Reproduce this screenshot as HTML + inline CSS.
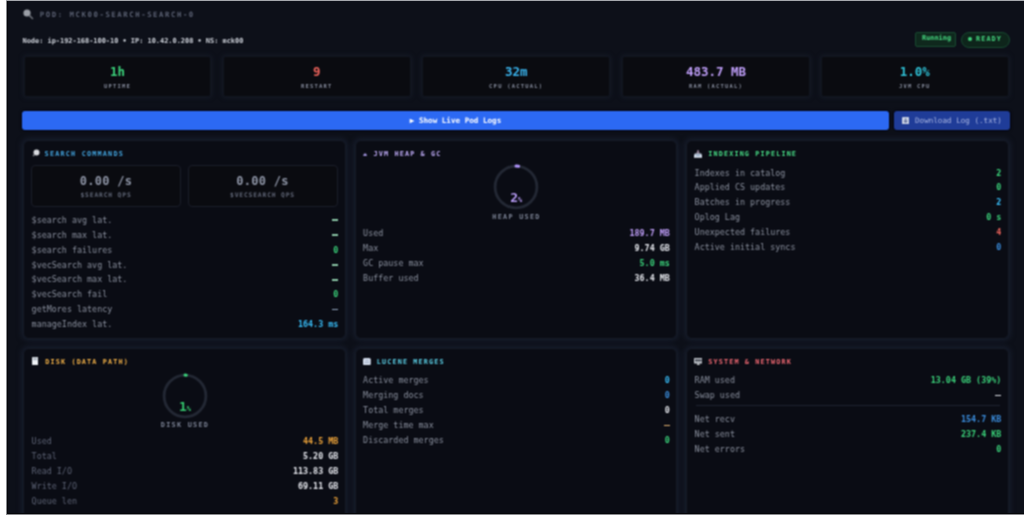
<!DOCTYPE html>
<html><head><meta charset="utf-8">
<style>
*{box-sizing:border-box;margin:0;padding:0}
html,body{width:1024px;height:518px;overflow:hidden;background:#fff}
body{position:relative;font-family:"DejaVu Sans Mono","Liberation Mono",monospace}
#topline{position:absolute;left:6px;top:0;width:1018px;height:1px;background:#a6a9ae}
#app{position:absolute;left:6.5px;top:1px;width:1018px;height:513px;background:#0d1019;overflow:hidden}
#edge{position:absolute;inset:0;box-shadow:inset 1px -1px 0 #040508;pointer-events:none}
#blurwrap{position:absolute;inset:0;filter:url(#soft)}
.abs{position:absolute}
.t{position:absolute;white-space:nowrap;line-height:1}
#podicon{left:15.5px;top:7px}
#podtitle{left:33.3px;top:10.4px;font-size:7.3px;letter-spacing:1.57px;font-weight:bold;color:#5b6173}
#nodeline{left:16px;top:36.8px;font-size:6.93px;font-weight:bold;color:#d0d4dc}
.badge{position:absolute;font-size:6.2px;font-weight:bold;color:#46dc82;line-height:1}
#running{left:908.5px;top:31px;width:41px;height:15px;font-size:6.9px;padding:2.3px 0 0 6px;border:1px solid #184a31;background:#0f281d;border-radius:2px}
#ready{left:954.5px;top:31px;width:49px;height:15.5px;font-size:6.8px;letter-spacing:1.1px;padding:3.3px 0 0 6px;border:1px solid #184a31;background:#0e251b;border-radius:8px}
.stat{position:absolute;top:55.3px;width:187.5px;height:40.6px;background:#0a0b10;border:1px solid #121620;border-radius:3px;box-shadow:0 0 4px 1px rgba(24,30,44,.7)}
.stat .v{position:absolute;left:0;right:0;top:8.8px;text-align:center;font-size:12.5px;font-weight:bold;line-height:1}
.stat .l{position:absolute;left:0;right:0;top:27px;text-align:center;font-size:5.5px;letter-spacing:1.2px;color:#868c9d;font-weight:bold;line-height:1}
#logs{box-shadow:0 0 2px 1px rgba(2,4,14,.8);left:15.5px;top:109.8px;width:867px;height:19.4px;background:#2c69f3;border-radius:3px;color:#fff;font-size:7.6px;font-weight:bold;text-align:center;line-height:19.4px}
#dl{box-shadow:0 0 2px 1px rgba(2,4,14,.8);left:887.5px;top:110.2px;width:116px;height:19px;background:#1f3c98;border-radius:3px;color:#aab6e2;font-size:7.6px;line-height:19px}
.panel{position:absolute;background:#0a0c14;border:1px solid #161b27;border-radius:6px;box-shadow:0 0 5px 2px rgba(26,32,48,.75)}
.ptitle{position:absolute;left:21.3px;top:10.4px;font-size:6.8px;font-weight:bold;letter-spacing:1.13px;line-height:1;white-space:nowrap}
.picon{position:absolute;left:8px;top:8px}
.rows{position:absolute;left:7.6px;right:6.2px}
.row{height:14.93px;display:flex;justify-content:space-between;align-items:center;font-size:8.4px;line-height:1;white-space:nowrap}
.row .k{color:#8a909e}
.row .val{font-weight:bold;color:#e6e8ee}
.dash{display:inline-block;width:6px;height:1.5px;vertical-align:middle;position:relative;top:-0.2px}
.sub{position:absolute;top:23.5px;width:150px;height:42px;border:1px solid #1a1e29;border-radius:4px;background:#0a0b10}
.sub .v{position:absolute;left:0;right:0;top:9.9px;text-align:center;font-size:12px;letter-spacing:.3px;font-weight:bold;color:#8e95a6;line-height:1}
.sub .l{position:absolute;left:0;right:0;top:26.2px;text-align:center;font-size:6.3px;letter-spacing:.85px;color:#626879;font-weight:bold;line-height:1}
.g{color:#3bd47b!important}
.c{color:#38bdf8!important}
.b{color:#3b8fe0!important}
.p{color:#c09ffa!important}
.o{color:#f0a53a!important}
.r{color:#f0645c!important}
.w{color:#e6e8ee!important}
.dim{color:#70778a!important}
</style></head><body><svg width="0" height="0" style="position:absolute"><filter id="soft" x="0" y="0" width="100%" height="100%" color-interpolation-filters="sRGB"><feConvolveMatrix order="3" kernelMatrix="1 2 1 2 4 2 1 2 1" divisor="16" edgeMode="duplicate"/></filter></svg>
<div id="topline"></div><div style="position:absolute;left:6px;top:1px;width:1px;height:514px;background:#86888d"></div><div style="position:absolute;left:6px;top:514px;width:1018px;height:1px;background:#8a8b8f"></div>
<div id="app"><div id="blurwrap">
  <svg id="podicon" class="abs" width="12" height="12" viewBox="0 0 12 12"><circle cx="5" cy="5" r="3.6" fill="#9a9ea6"/><path d="M7.6 7.6 L10.5 10.5" stroke="#6b6f77" stroke-width="1.6" stroke-linecap="round"/></svg>
  <div id="podtitle" class="t">POD: MCK00-SEARCH-SEARCH-0</div>
  <div id="nodeline" class="t">Node: ip-192-168-100-10 • IP: 10.42.0.208 • NS: mck00</div>
  <div id="running" class="badge">Running</div>
  <div id="ready" class="badge"><span style="position:absolute;left:6.3px;top:4.4px;width:3.9px;height:3.9px;border-radius:50%;background:#40d47c"></span><span style="position:absolute;left:14px;top:3.3px">READY</span></div>

  <div class="stat" style="left:17.25px"><div class="v g">1h</div><div class="l">UPTIME</div></div>
  <div class="stat" style="left:216.55px"><div class="v r">9</div><div class="l">RESTART</div></div>
  <div class="stat" style="left:415.95px"><div class="v" style="color:#3ab4ee">32m</div><div class="l">CPU (ACTUAL)</div></div>
  <div class="stat" style="left:615.75px"><div class="v p">483.7 MB</div><div class="l">RAM (ACTUAL)</div></div>
  <div class="stat" style="left:814.55px"><div class="v" style="color:#2fc3d8">1.0%</div><div class="l">JVM CPU</div></div>

  <div id="logs" class="abs">▶ Show Live Pod Logs</div>
  <div id="dl" class="abs"><svg style="position:absolute;left:8.2px;top:5.4px" width="7.3" height="7.3" viewBox="0 0 8 8"><rect x="0" y="0" width="8" height="8" rx="1.2" fill="#c9d1e3"/><path d="M4 1.5 V5.6 M2.2 4 L4 5.8 L5.8 4" stroke="#5a6a9a" stroke-width="1.1" fill="none"/></svg><span style="position:absolute;left:21px;top:0">Download Log (.txt)</span></div>

  <!-- Panel 1 -->
  <div class="panel" style="left:16.5px;top:139px;width:322.5px;height:199px">
    <svg class="picon" width="8" height="8" viewBox="0 0 8 8"><circle cx="4.5" cy="3.5" r="3" fill="#d8dadf"/><path d="M2.5 5.5 L1 7" stroke="#8d9096" stroke-width="1.2"/></svg>
    <div class="ptitle" style="left:20.6px;letter-spacing:1.2px;color:#44a8e4">SEARCH COMMANDS</div>
    <div class="sub" style="left:7px"><div class="v">0.00 /s</div><div class="l">$SEARCH QPS</div></div>
    <div class="sub" style="left:163.5px"><div class="v">0.00 /s</div><div class="l">$VECSEARCH QPS</div></div>
    <div class="rows" style="top:71.5px">
      <div class="row"><span class="k">$search avg lat.</span><span class="val"><i class="dash" style="background:#8cc9a8"></i></span></div>
      <div class="row"><span class="k">$search max lat.</span><span class="val"><i class="dash" style="background:#8cc9a8"></i></span></div>
      <div class="row"><span class="k">$search failures</span><span class="val g">0</span></div>
      <div class="row"><span class="k">$vecSearch avg lat.</span><span class="val"><i class="dash" style="background:#8cc9a8"></i></span></div>
      <div class="row"><span class="k">$vecSearch max lat.</span><span class="val"><i class="dash" style="background:#8cc9a8"></i></span></div>
      <div class="row"><span class="k">$vecSearch fail</span><span class="val g">0</span></div>
      <div class="row"><span class="k">getMores latency</span><span class="val"><i class="dash" style="background:#90a4bc"></i></span></div>
      <div class="row"><span class="k">manageIndex lat.</span><span class="val c">164.3 ms</span></div>
    </div>
  </div>

  <!-- Panel 2 -->
  <div class="panel" style="left:348px;top:139px;width:322.5px;height:199px">
    <svg class="abs" style="left:7px;top:11.5px" width="4.2" height="3.6" viewBox="0 0 4.2 3.6"><path d="M0.2 3.4 Q0.2 0.2 2.1 0.2 Q4 0.2 4 3.4 Z" fill="#9c8fd6"/></svg>
    <div class="ptitle" style="left:18.1px;color:#c2aefb">JVM HEAP &amp; GC</div>
    <svg class="abs" style="left:137.9px;top:23.2px" width="46" height="46" viewBox="0 0 46 46"><circle cx="23" cy="23" r="20.9" fill="none" stroke="#232834" stroke-width="2.8"/><path d="M23 2.1 A20.9 20.9 0 0 1 25.6 2.26" fill="none" stroke="#b094fb" stroke-width="3" stroke-linecap="round"/></svg>
    <div class="t" style="left:-0.2px;width:322px;text-align:center;top:50.3px;font-size:13px;font-weight:bold;color:#b89cf6">2<span style="font-size:7px">%</span></div>
    <div class="t" style="left:0;width:322px;text-align:center;top:72.8px;font-size:6.8px;letter-spacing:1.3px;color:#7d8496;font-weight:bold">HEAP USED</div>
    <div class="rows" style="top:84.8px">
      <div class="row"><span class="k">Used</span><span class="val p">189.7 MB</span></div>
      <div class="row"><span class="k">Max</span><span class="val">9.74 GB</span></div>
      <div class="row"><span class="k">GC pause max</span><span class="val g">5.0 ms</span></div>
      <div class="row"><span class="k">Buffer used</span><span class="val">36.4 MB</span></div>
    </div>
  </div>

  <!-- Panel 3 -->
  <div class="panel" style="left:679.5px;top:139px;width:322.5px;height:199px">
    <svg class="abs" style="left:7.2px;top:8.8px" width="8" height="8" viewBox="0 0 8 8"><path d="M4 0.3 V3.2" stroke="#b8a0b8" stroke-width="1.4"/><path d="M2.8 2.4 L4 3.6 L5.2 2.4" stroke="#b8a0b8" stroke-width="0.9" fill="none"/><path d="M0.8 3.6 H7.2 L8 5.4 V7.8 H0 V5.4 Z" fill="#d7e0ee"/><path d="M1.5 4.6 H6.5 L5.6 5.8 H2.4 Z" fill="#7f9ab8"/></svg>
    <div class="ptitle" style="color:#48e087">INDEXING PIPELINE</div>
    <div class="rows" style="top:24.3px">
      <div class="row"><span class="k">Indexes in catalog</span><span class="val g">2</span></div>
      <div class="row"><span class="k">Applied CS updates</span><span class="val g">0</span></div>
      <div class="row"><span class="k">Batches in progress</span><span class="val c">2</span></div>
      <div class="row"><span class="k">Oplog Lag</span><span class="val g">0 s</span></div>
      <div class="row"><span class="k">Unexpected failures</span><span class="val r">4</span></div>
      <div class="row"><span class="k">Active initial syncs</span><span class="val b">0</span></div>
    </div>
  </div>

  <!-- Panel 4 -->
  <div class="panel" style="left:16.5px;top:347px;width:322.5px;height:200px">
    <svg class="abs" style="left:7.9px;top:8.2px" width="6.4" height="8.1" viewBox="0 0 6.4 8.1"><rect x="0" y="0" width="6.4" height="8.1" rx="0.8" fill="#dfe4ea"/><rect x="1.2" y="0.6" width="4" height="2.4" fill="#b4bac3"/><rect x="0.8" y="4.2" width="4.8" height="3.4" fill="#f2f5f8"/></svg>
    <div class="ptitle" style="color:#f7b448">DISK (DATA PATH)</div>
    <svg class="abs" style="left:137.9px;top:23.6px" width="46" height="46" viewBox="0 0 46 46"><circle cx="23" cy="23" r="20.9" fill="none" stroke="#232834" stroke-width="2.8"/><path d="M23 2.1 A20.9 20.9 0 0 1 24.3 2.14" fill="none" stroke="#3bd47b" stroke-width="3" stroke-linecap="round"/></svg>
    <div class="t" style="left:0px;width:322px;text-align:center;top:51.2px;font-size:13px;font-weight:bold;color:#35c96f">1<span style="font-size:7px">%</span></div>
    <div class="t" style="left:0;width:322px;text-align:center;top:73.4px;font-size:6.8px;letter-spacing:1.3px;color:#7d8496;font-weight:bold">DISK USED</div>
    <div class="rows" style="top:84.9px">
      <div class="row"><span class="k" style="color:#5d6375">Used</span><span class="val o">44.5 MB</span></div>
      <div class="row"><span class="k" style="color:#5d6375">Total</span><span class="val">5.20 GB</span></div>
      <div class="row"><span class="k" style="color:#5d6375">Read I/O</span><span class="val">113.83 GB</span></div>
      <div class="row"><span class="k" style="color:#5d6375">Write I/O</span><span class="val">69.11 GB</span></div>
      <div class="row"><span class="k" style="color:#5d6375">Queue len</span><span class="val o">3</span></div>
    </div>
  </div>

  <!-- Panel 5 -->
  <div class="panel" style="left:348px;top:347px;width:322.5px;height:200px">
    <svg class="abs" style="left:7.6px;top:8.6px" width="7.8" height="7.3" viewBox="0 0 7.8 7.3"><rect x="0" y="0" width="7.8" height="7.3" rx="1.6" fill="#d3dcec"/><path d="M2.5 2.2 H5.5 M1.6 4.4 H6.2" stroke="#8d9bb5" stroke-width="0.7"/></svg>
    <div class="ptitle" style="color:#5cd3ea">LUCENE MERGES</div>
    <div class="rows" style="top:24px">
      <div class="row"><span class="k">Active merges</span><span class="val c">0</span></div>
      <div class="row"><span class="k">Merging docs</span><span class="val b">0</span></div>
      <div class="row"><span class="k">Total merges</span><span class="val">0</span></div>
      <div class="row"><span class="k">Merge time max</span><span class="val"><i class="dash" style="background:#e0b070"></i></span></div>
      <div class="row"><span class="k">Discarded merges</span><span class="val g">0</span></div>
    </div>
  </div>

  <!-- Panel 6 -->
  <div class="panel" style="left:679.5px;top:347px;width:322.5px;height:200px">
    <svg class="abs" style="left:6.8px;top:8.8px" width="8.7" height="7.1" viewBox="0 0 8.7 7.1"><rect x="0" y="0" width="8.7" height="5.4" rx="0.6" fill="#c3c7ce"/><rect x="1" y="1.3" width="6.7" height="2.2" fill="#4a4e58"/><path d="M3.4 5.4 H5.3 L5.8 7.1 H2.9 Z" fill="#d6d9de"/></svg>
    <div class="ptitle" style="color:#f66a74">SYSTEM &amp; NETWORK</div>
    <div class="rows" style="top:24px">
      <div class="row"><span class="k">RAM used</span><span class="val g">13.04 GB (39%)</span></div>
      <div class="row"><span class="k">Swap used</span><span class="val"><i class="dash" style="background:#d8dce2"></i></span></div>
    </div>
    <div class="abs" style="left:8.5px;right:8px;top:56.2px;height:1px;background:#1d2230"></div>
    <div class="rows" style="top:62.8px">
      <div class="row"><span class="k">Net recv</span><span class="val b">154.7 KB</span></div>
      <div class="row"><span class="k">Net sent</span><span class="val g">237.4 KB</span></div>
      <div class="row"><span class="k">Net errors</span><span class="val g">0</span></div>
    </div>
  </div>
</div><div id="edge"></div></div>
</body></html>
